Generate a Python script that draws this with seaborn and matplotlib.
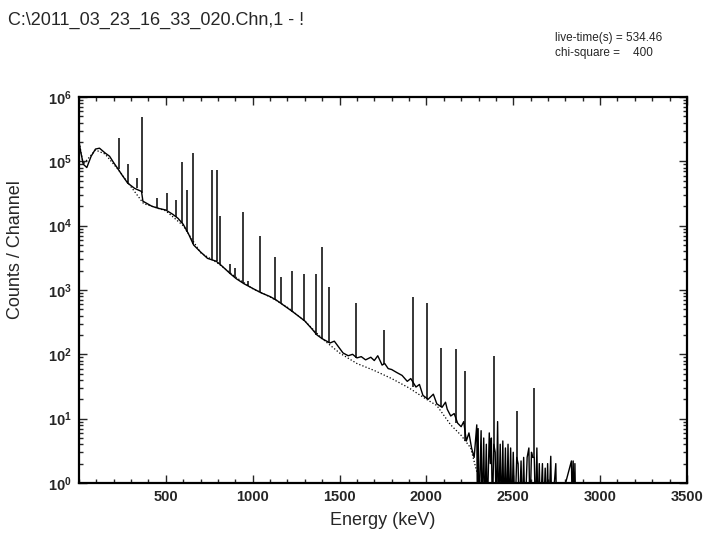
import numpy as np
import pandas as pd
from matplotlib import pyplot as plt
from matplotlib.ticker import MultipleLocator, FixedLocator, NullFormatter
import seaborn as sns

# measured spectrum, continuum part (keV, counts per channel)
cont_energy = [0, 2, 10, 25, 45, 70, 95, 118, 150, 176, 200, 222, 250, 280, 320, 360, 368,
               420, 460, 500, 540, 570, 600, 630, 660, 700, 740, 790, 820, 870, 905, 950,
               1017, 1050, 1100, 1135, 1170, 1230, 1300, 1340, 1370, 1400, 1445, 1470, 1490,
               1520, 1550, 1575, 1600, 1625, 1650, 1680, 1700, 1720, 1745, 1760, 1780, 1800,
               1830, 1860, 1890, 1910, 1940, 1960, 1980, 2010, 2040, 2060, 2090, 2110, 2120,
               2140, 2160, 2180, 2200, 2215, 2230, 2245, 2260, 2275, 2290, 2294, 2298, 2302,
               2315, 2320, 2330, 2336, 2345, 2350, 2362, 2368, 2374, 2380, 2388, 2396, 2402,
               2410, 2416, 2425, 2432, 2440, 2446, 2455, 2462, 2470, 2476, 2485, 2492, 2500,
               2510, 2520, 2528, 2534, 2545, 2552, 2560, 2568, 2580, 2590, 2596, 2605, 2612,
               2621, 2628, 2636, 2642, 2650, 2656, 2668, 2674, 2684, 2690, 2698, 2704, 2716,
               2722, 2745, 2750, 2835, 2840, 2845, 2850, 2855, 2860, 3500]
cont_counts = [150, 1.9e5, 1.4e5, 9e4, 8e4, 1.2e5, 1.55e5, 1.6e5, 1.35e5, 1.2e5, 9.5e4, 7.8e4,
               6.0e4, 4.6e4, 3.8e4, 3.4e4, 2.4e4, 2.0e4, 1.85e4, 1.75e4, 1.5e4, 1.3e4, 1.05e4,
               7.5e3, 5.0e3, 3.9e3, 3.1e3, 2.8e3, 2.4e3, 1.8e3, 1.5e3, 1.25e3, 1.0e3, 900, 790,
               700, 600, 460, 330, 250, 200, 175, 150, 160, 135, 105, 95, 100, 88, 92, 82, 90,
               80, 95, 68, 72, 60, 58, 52, 47, 38, 42, 31, 34, 23, 20, 24, 17, 15, 18, 14, 11,
               12, 8.5, 7.5, 9, 4.5, 6, 3.5, 2.5, 8, 0.3, 7, 0.3, 6.5, 0.3, 5, 0.3, 4, 0.3, 6,
               2, 5, 0.3, 4, 3, 0.3, 9, 0.3, 4, 0.3, 4.5, 0.3, 3.5, 0.3, 4, 0.3, 3.5, 0.3, 3,
               0.3, 2.5, 2, 0.3, 2.2, 0.3, 2.5, 0.3, 2.5, 3.5, 0.3, 3, 2.5, 2.5, 0.3, 3.5, 0.3,
               2, 0.3, 2, 0.3, 1.7, 0.3, 2, 0.3, 2.6, 0.3, 2, 0.3, 2.2, 0.3, 2.2, 0.3, 2, 0.3, 0.3]

# fitted background (dotted curve)
fit_energy = [0, 2, 25, 95, 150, 230, 300, 372, 500, 600, 700, 800, 900, 1000, 1100, 1200,
              1300, 1400, 1500, 1600, 1700, 1800, 1900, 2000, 2060, 2140, 2200, 2255, 2290]
fit_counts = [150, 1.9e5, 9e4, 1.5e5, 1.3e5, 7.2e4, 4.0e4, 2.2e4, 1.7e4, 1.0e4, 3.8e3, 2.6e3,
              1.6e3, 1.05e3, 780, 540, 330, 175, 105, 72, 56, 42, 30, 20, 16, 8, 5.5, 3.5, 1.5]

# photo peaks: energy, continuum under the peak, top of the peak
peak_energy = [228, 284, 334, 364, 450, 507, 559, 594, 622, 657, 767, 795, 813, 870, 899, 945,
               974, 1043, 1130, 1164, 1228, 1297, 1366, 1400, 1441, 1597, 1758, 1925, 2006,
               2086, 2173, 2225, 2392, 2524, 2617]
peak_base = [7.6e4, 4.5e4, 3.9e4, 3.2e4, 1.9e4, 1.75e4, 1.35e4, 1.1e4, 8e3, 5.2e3, 3.0e3, 2.8e3,
             2.5e3, 1.8e3, 1.6e3, 1.3e3, 1.15e3, 920, 710, 620, 460, 330, 200, 175, 150, 88, 70,
             31, 20, 15, 8.5, 4.5, 3, 2, 2.5]
peak_top = [2.3e5, 9e4, 5.5e4, 4.8e5, 2.7e4, 3.2e4, 2.5e4, 9.8e4, 3.6e4, 1.35e5, 7.4e4, 7.4e4,
            1.4e4, 2.5e3, 2.2e3, 1.65e4, 1.4e3, 6.8e3, 3.3e3, 1.6e3, 1.95e3, 1.8e3, 1.8e3, 4.6e3,
            1.1e3, 630, 235, 780, 630, 126, 123, 56, 95, 13, 30]

x_ticks = [500, 1000, 1500, 2000, 2500, 3000, 3500]
y_ticks = [1e0, 1e1, 1e2, 1e3, 1e4, 1e5, 1e6]

sns.set_style("ticks")
plt.rcParams['font.family'] = ['Liberation Sans', 'DejaVu Sans']

df_cont = pd.DataFrame({"energy": cont_energy, "counts": cont_counts})
df_fit = pd.DataFrame({"energy": fit_energy, "counts": fit_counts})

fig = plt.figure(figsize=(7.09, 5.37), dpi=100)
ax = fig.add_axes([0.1114, 0.1006, 0.8575, 0.7188])
ax.set_yscale("log")

sns.lineplot(x="energy", y="counts", data=df_fit, ax=ax, color="black",
             linestyle=":", linewidth=0.9, estimator=None, sort=False)
sns.lineplot(x="energy", y="counts", data=df_cont, ax=ax, color="black",
             linewidth=1.0, estimator=None, sort=False)
ax.vlines(peak_energy, peak_base, peak_top, color="black", linewidth=1.1)

ax.set_xlim(0, 3500)
ax.set_ylim(1, 1e6)
ax.set_xticks(x_ticks)
ax.xaxis.set_minor_locator(MultipleLocator(100))
ax.set_yticks(y_ticks)
minor_y = [m * 10.0 ** d for d in range(0, 6) for m in range(2, 10)]
ax.yaxis.set_minor_locator(FixedLocator(minor_y))
ax.yaxis.set_minor_formatter(NullFormatter())

ax.tick_params(which="both", direction="in", top=True, right=True, width=1.0)
ax.tick_params(which="major", length=6, labelsize=10.5, pad=5)
ax.tick_params(which="minor", length=3)
for lab in ax.get_xticklabels() + ax.get_yticklabels():
    lab.set_fontweight("bold")
for sp in ax.spines.values():
    sp.set_linewidth(1.6)
    sp.set_color("black")

ax.set_xlabel("Energy (keV)", fontsize=13, labelpad=6)
ax.set_ylabel("")
fig.text(0.022, 0.535, "Counts / Channel", rotation=90, fontsize=13,
         ha="center", va="center")

fig.text(0.011, 0.962, "C:\\2011_03_23_16_33_020.Chn,1 - !", fontsize=13,
         ha="left", va="center")
fig.text(0.783, 0.929, "live-time(s) = 534.46", fontsize=8.5, ha="left", va="center")
fig.text(0.783, 0.901, "chi-square =    400", fontsize=8.5, ha="left", va="center")

fig.savefig("out.png", dpi=100)
plt.close(fig)
